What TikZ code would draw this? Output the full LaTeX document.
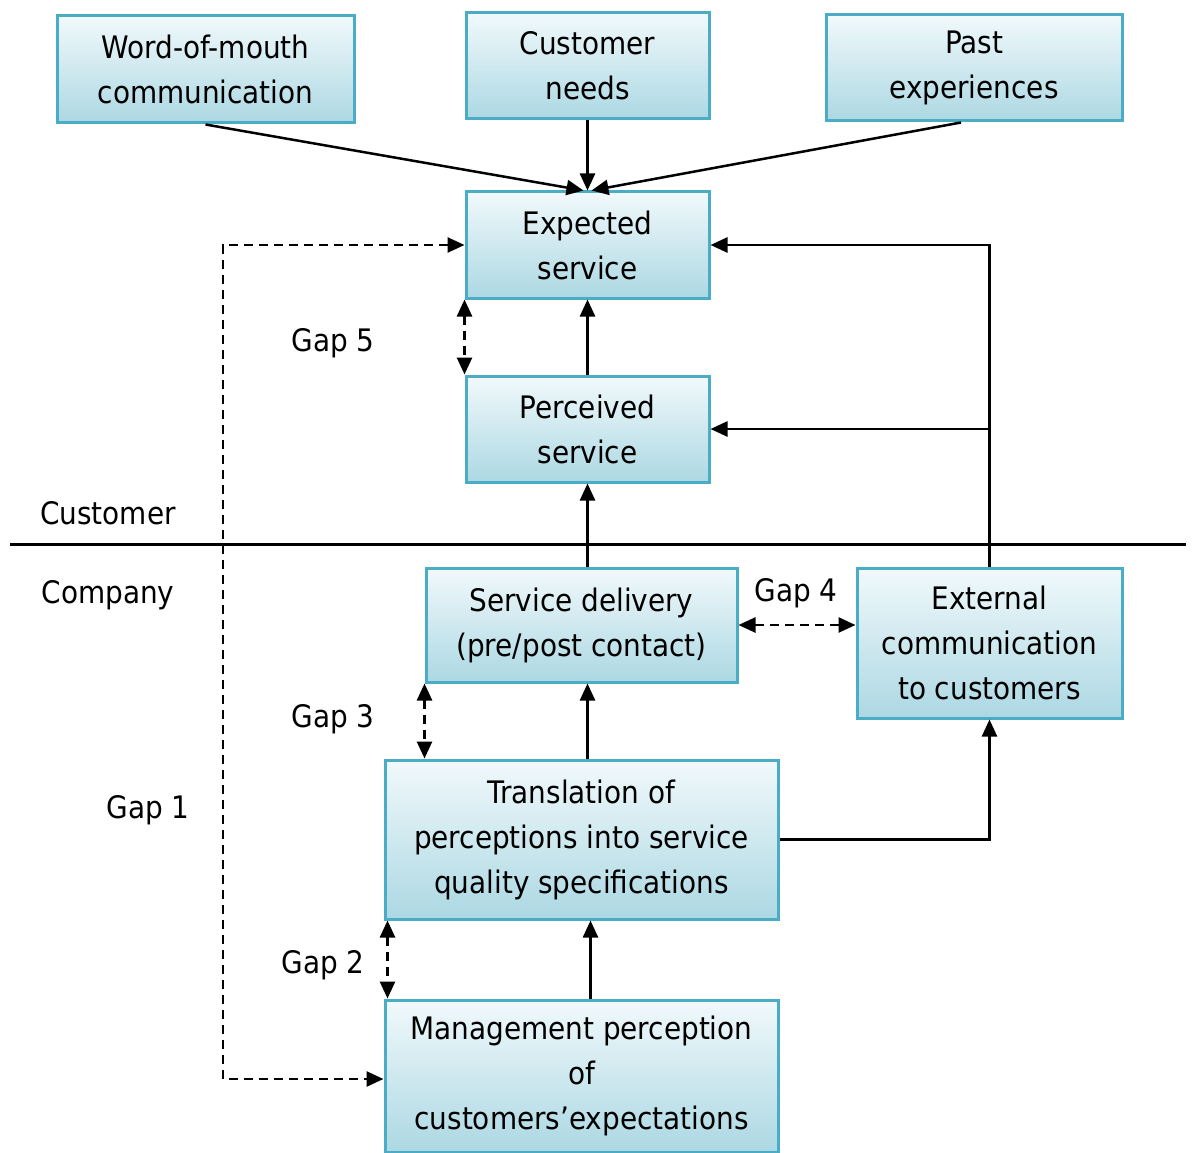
\documentclass[tikz,border=0pt]{standalone}
\usepackage{fontspec}
\setmainfont{DejaVu Sans Condensed}
\usetikzlibrary{arrows.meta}

\definecolor{boxedge}{HTML}{4BACC6}
\definecolor{boxtop}{HTML}{F1F9FB}
\definecolor{boxbot}{HTML}{ACD8E3}

\tikzset{
  box/.style={draw=boxedge, line width=3pt, top color=boxtop, bottom color=boxbot,
    align=center, inner sep=0pt, font=\fontsize{31}{45}\selectfont},
  conn/.style={line width=2.5pt, -{Triangle[length=17pt,width=15pt]}},
  gap/.style={line width=2.6pt, dash pattern=on 9pt off 6pt,
    {Triangle[length=17pt,width=15pt]}-{Triangle[length=17pt,width=15pt]}},
  lbl/.style={font=\fontsize{31}{36}\selectfont, inner sep=0pt}
}

\begin{document}
\begin{tikzpicture}[x=1pt, y=-1pt]
  \clip (0,0) rectangle (1192,1153);
  \fill[white] (0,0) rectangle (1192,1153);

  % customer side
  \node[box, minimum width=297pt, minimum height=107pt] (wom) at (205.5,69.5) {Word-of-mouth\\communication};
  \node[box, minimum width=243pt, minimum height=106pt] (need) at (587.5,66) {Customer\\needs};
  \node[box, minimum width=296pt, minimum height=106pt] (past) at (974,68) {Past\\experiences};
  \node[box, minimum width=243pt, minimum height=106pt] (exp) at (587.5,245) {Expected\\service};
  \node[box, minimum width=243pt, minimum height=106pt] (per) at (587.5,429) {Perceived\\service};

  % company side
  \node[box, minimum width=311pt, minimum height=114pt] (sd) at (581.5,625) {Service delivery\\(pre/post contact)};
  \node[box, minimum width=265pt, minimum height=150pt] (ext) at (989.5,643) {External\\communication\\to customers};
  \node[box, minimum width=393pt, minimum height=159pt] (tr) at (581.5,839.5) {Translation of\\perceptions into service\\quality specifications};
  \node[box, minimum width=393pt, minimum height=152pt] (mg) at (581.5,1076) {Management perception\\of\\customers’expectations};

  % dividing line and side labels
  \coordinate (divl) at (10,544);
  \coordinate (divr) at (1186,544);
  \draw[line width=3pt] (divl) -- (divr);
  \node[lbl] (cust) at (108,513) {Customer};
  \node[lbl] (comp) at (108,595) {Company};

  % gap labels
  \node[lbl] (g5) at (333,343) {Gap 5};
  \node[lbl] (g4) at (796,593) {Gap 4};
  \node[lbl] (g3) at (333,719) {Gap 3};
  \node[lbl] (g1) at (148,810) {Gap 1};
  \node[lbl] (g2) at (323,965) {Gap 2};

  % inputs to expected service
  \draw[conn] (wom.south) -- ([xshift=-4pt]exp.north);
  \draw[conn] (need.south) -- (exp.north);
  \draw[conn] ([xshift=-13pt]past.south) -- ([xshift=4pt]exp.north);

  % main chain
  \draw[conn] (per.north) -- (exp.south);
  \draw[conn] (sd.north -| per.south) -- (per.south);
  \draw[conn] (tr.north -| per.south) -- (sd.south -| per.south);
  \draw[conn] ([xshift=9pt]mg.north) -- ([xshift=9pt]tr.south);

  % external communication feedback
  \coordinate (jn) at (ext.north |- per.east);
  \draw[conn] (ext.north) -- (ext.north |- exp.east) -- (exp.east);
  \draw[conn] (jn) -- (per.east);
  \draw[conn] (tr.east) -- (tr.east -| ext.south) -- (ext.south);

  % gaps
  \draw[gap] (exp.south west) -- (per.north west);
  \draw[gap] (sd.east) -- (ext.west |- sd.east);
  \draw[gap] (sd.south west) -- (sd.south west |- tr.north);
  \draw[gap] ([xshift=4pt]tr.south west) -- ([xshift=4pt]mg.north west);
  \coordinate (g1top) at (223,245);
  \coordinate (g1bot) at (223,1079);
  \draw[gap] (exp.west) -- (g1top) -- (g1bot) -- (mg.west |- g1bot);
\end{tikzpicture}
\end{document}
